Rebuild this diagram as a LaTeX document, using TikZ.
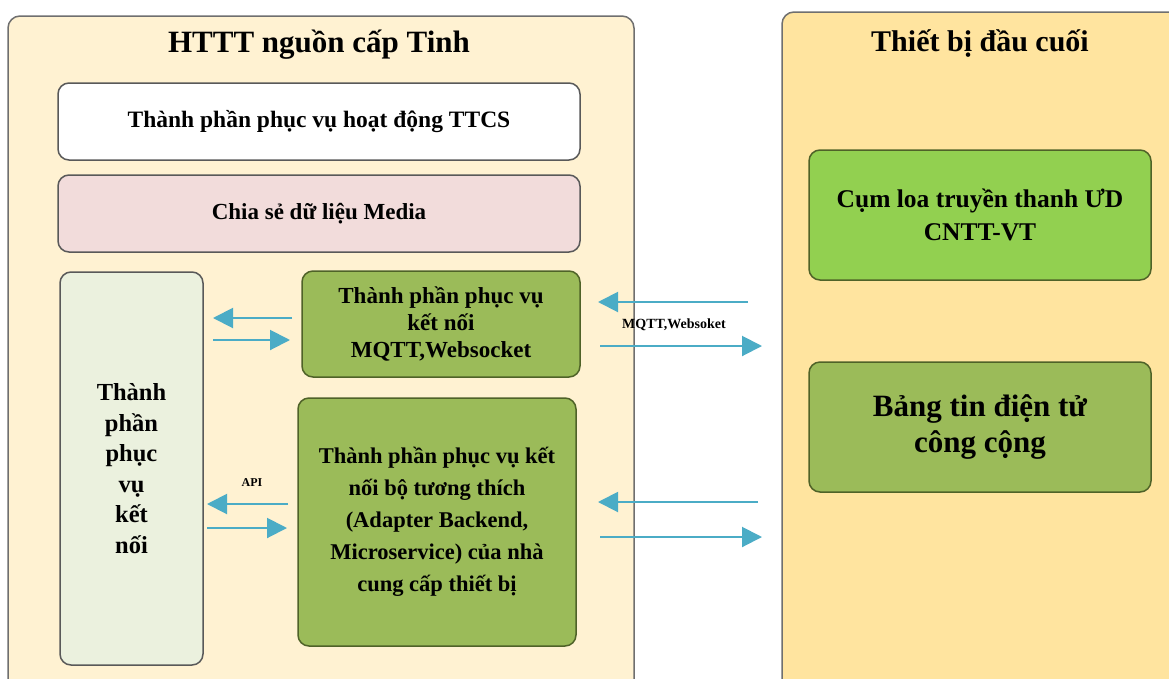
\documentclass[tikz,border=0pt]{standalone}
\usepackage{fontspec}
\usepackage{graphicx}
\setmainfont{Liberation Serif}
\usetikzlibrary{arrows.meta}
\definecolor{creamL}{HTML}{FFF2D2}
\definecolor{creamR}{HTML}{FFE49F}
\definecolor{outerln}{HTML}{6F6F6F}
\definecolor{boxln}{HTML}{595959}
\definecolor{pinkbox}{HTML}{F2DCDB}
\definecolor{palegreen}{HTML}{EBF1DE}
\definecolor{olive}{HTML}{9BBB59}
\definecolor{oliveln}{HTML}{4F6228}
\definecolor{lime}{HTML}{92D050}
\definecolor{teal}{HTML}{4BACC6}
\tikzset{
  outerbox/.style={draw=outerln, line width=1.5pt, rounded corners=12pt},
  innerbox/.style={draw=boxln, line width=1.5pt, rounded corners=11pt, align=center,
    font=\bfseries\fontsize{22.5}{32}\selectfont, inner sep=0pt},
  greenbox/.style={innerbox, draw=oliveln, fill=olive},
  titletext/.style={font=\bfseries\fontsize{31}{34}\selectfont, inner sep=0pt},
  arr/.style={draw=teal, line width=2pt, -{Triangle[length=20pt,width=20pt]}},
  lbl/.style={font=\bfseries\fontsize{14}{16}\selectfont, inner sep=0pt}
}
\begin{document}
\begin{tikzpicture}[x=1pt,y=-1pt]
\useasboundingbox (0,0) rectangle (1169,678);
\clip (0,0) rectangle (1169,678);
\fill[white] (0,0) rectangle (1169,678);
% outer containers
\node[outerbox, fill=creamL, minimum width=626pt, minimum height=690pt] (src) at (321,361) {};
\node[outerbox, fill=creamR, minimum width=410pt, minimum height=694pt] (dev) at (987,359) {};
\node[titletext] (srctitle) at (319,45) {HTTT nguồn cấp Tinh};
\node[titletext, font=\bfseries\fontsize{30}{34}\selectfont] (devtitle) at (980,44) {Thiết bị đầu cuối};
% left side boxes
\node[innerbox, fill=white, minimum width=522pt, minimum height=77pt, font=\bfseries\fontsize{23.5}{32}\selectfont] (ttcs) at (319,121.5) {Thành phần phục vụ hoạt động TTCS};
\node[innerbox, fill=pinkbox, minimum width=522pt, minimum height=77pt, font=\bfseries\fontsize{23}{32}\selectfont] (media) at (319,213.5) {Chia sẻ dữ liệu Media};
\node[innerbox, fill=palegreen, minimum width=143pt, minimum height=393pt, font=\bfseries\fontsize{24.5}{30.5}\selectfont] (conn) at (131.5,468.5) {Thành\\phần\\phục\\vụ\\kết\\nối};
\node[greenbox, minimum width=278pt, minimum height=106pt, font=\bfseries\fontsize{23}{27}\selectfont] (mqtt) at (441,324) {Thành phần phục vụ\\kết nối\\MQTT,Websocket};
\node[greenbox, minimum width=278pt, minimum height=248pt] (adapter) at (437,522) {Thành phần phục vụ kết\\nối bộ tương thích\\(Adapter Backend,\\Microservice) của nhà\\cung cấp thiết bị};
% right side boxes
\node[innerbox, draw=oliveln, fill=lime, minimum width=342pt, minimum height=130pt, font=\bfseries\fontsize{25.5}{33}\selectfont] (loa) at (980,215) {Cụm loa truyền thanh ƯD\\CNTT-VT};
\node[greenbox, minimum width=342pt, minimum height=130pt, font=\bfseries\fontsize{31}{36}\selectfont] (bang) at (980,427) {Bảng tin điện tử\\công cộng};
% arrow end points
\coordinate (l1a) at (292,318); \coordinate (l1b) at (213,318);
\coordinate (l2a) at (213,340); \coordinate (l2b) at (290,340);
\coordinate (l3a) at (288,504); \coordinate (l3b) at (207,504);
\coordinate (l4a) at (207,528); \coordinate (l4b) at (287,528);
\coordinate (r1a) at (748,302); \coordinate (r1b) at (598,302);
\coordinate (r2a) at (600,346); \coordinate (r2b) at (762,346);
\coordinate (r3a) at (758,502); \coordinate (r3b) at (598,502);
\coordinate (r4a) at (600,537); \coordinate (r4b) at (762,537);
\draw[arr] (l1a) -- (l1b);
\draw[arr] (l2a) -- (l2b);
\draw[arr] (l3a) -- (l3b);
\draw[arr] (l4a) -- (l4b);
\draw[arr] (r1a) -- (r1b);
\draw[arr] (r2a) -- (r2b);
\draw[arr] (r3a) -- (r3b);
\draw[arr] (r4a) -- (r4b);
\node[lbl] (mqttlbl) at (674,325) {MQTT,Websoket};
\node[lbl, font=\bfseries\fontsize{12}{14}\selectfont] (apilbl) at (252,483) {API};
\end{tikzpicture}
\end{document}
